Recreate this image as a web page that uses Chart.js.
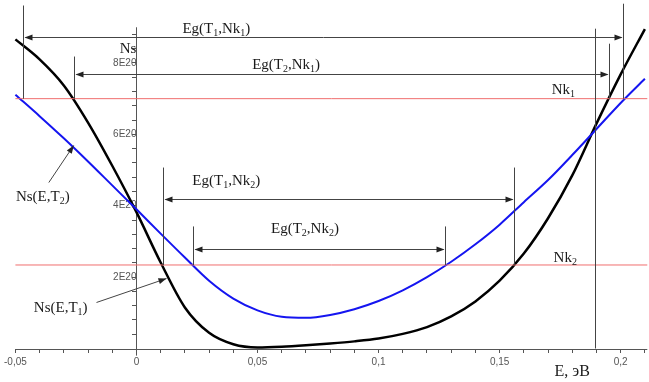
<!DOCTYPE html>
<html>
<head>
<meta charset="utf-8">
<script src="https://cdn.jsdelivr.net/npm/chart.js@4"></script>
<style>
html, body { margin: 0; padding: 0; background: #fff; }
</style>
</head>
<body>
<canvas id="myChart" width="649" height="382"></canvas>
<script>

// energy E, eV
let energies = [-0.05, -0.04, -0.03, -0.02, -0.01, 0, 0.01, 0.02, 0.03, 0.04, 0.05, 0.06, 0.07, 0.08,
                0.09, 0.1, 0.11, 0.12, 0.13, 0.14, 0.15, 0.16, 0.17, 0.18, 0.19, 0.2, 0.21];

// Ns in units of 1E20
let nsT1 = [8.66, 8.10, 7.37, 6.33, 5.12, 3.82, 2.41, 1.15, 0.44, 0.12, 0.03, 0.05, 0.09, 0.14,
            0.20, 0.28, 0.41, 0.60, 0.90, 1.32, 1.90, 2.66, 3.65, 4.85, 6.30, 7.68, 8.95];
let nsT2 = [7.11, 6.51, 5.89, 5.24, 4.57, 3.90, 3.22, 2.55, 1.90, 1.40, 1.07, 0.89, 0.86, 0.94,
            1.10, 1.33, 1.63, 2.00, 2.43, 2.92, 3.47, 4.10, 4.72, 5.42, 6.15, 6.88, 7.56];

let nk1 = 7.0;
let nk2 = 2.34;

let xMajor = [-0.05, 0, 0.05, 0.1, 0.15, 0.2];
let xLabels = ['-0,05', '0', '0,05', '0,1', '0,15', '0,2'];
let yMajor = [2, 4, 6, 8];
let yLabels = ['2E20', '4E20', '6E20', '8E20'];
let nsTick = 8.4;

// Eg brackets
let gapNames  = ['Eg(T_1,Nk_1)', 'Eg(T_2,Nk_1)', 'Eg(T_1,Nk_2)', 'Eg(T_2,Nk_2)'];
let gapLeft   = [-0.047, -0.026, 0.0111, 0.0235];
let gapRight  = [0.201, 0.195, 0.1561, 0.1273];
let gapArrow  = [8.74, 7.70, 4.20, 2.80];
let gapTopL   = [9.61, 8.18, 5.07, 3.42];
let gapTopR   = [9.66, 8.54, 5.07, 3.42];
let gapBottom = [nk1, nk1, nk2, nk2];
let gapTextE  = [0.033, 0.0618, 0.0371, 0.0696];
let gapTextN  = [8.85, 7.82, 4.57, 3.25];

// vertical marker line
let markE = 0.1895;
let markTop = 8.96;

// curve names with pointer arrows
let curveNames = ['Ns(E,T_2)', 'Ns(E,T_1)'];
let curveTextE = [-0.0387, -0.0313];
let curveTextN = [4.12, 1.01];
let pointerFrom = [[-0.0362, 4.65], [-0.0165, 1.29]];
let pointerTo   = [[-0.0259, 5.69], [0.0124, 1.96]];

let levelNames = ['Nk_1', 'Nk_2'];
let levelTextE = [0.1763, 0.1771];
let levelTextN = [7.14, 2.41];

let xTitle = 'E, эВ';

const MAIN_FONT = '15px "Liberation Serif"';
const SUB_FONT = '10px "Liberation Serif"';


function makePoints(ys)
{
    return energies.map((e, i) => ({ x: e, y: ys[i] }));
}

function near(a, b)
{
    return Math.abs(a - b) < 1e-6;
}

let xTicks = [];
for(let i = -5; i <= 21; i++) xTicks.push(i / 100);
let yTicks = [];
for(let i = 1; i <= 22; i++) yTicks.push(i * 4 / 10);


function crisp(v)
{
    return Math.round(v) + 0.5;
}

function line(ctx, x1, y1, x2, y2)
{
    ctx.beginPath();
    ctx.moveTo(x1, y1);
    ctx.lineTo(x2, y2);
    ctx.stroke();
}

function arrowHead(ctx, x, y, angle)
{
    const len = 8, half = 3;
    ctx.save();
    ctx.translate(x, y);
    ctx.rotate(angle);
    ctx.beginPath();
    ctx.moveTo(0, 0);
    ctx.lineTo(-len, -half);
    ctx.lineTo(-len, half);
    ctx.closePath();
    ctx.fill();
    ctx.restore();
}

function richText(ctx, str, x, y)
{
    // "_" puts the next character in subscript
    let parts = [];
    for(let i = 0; i < str.length; i++)
    {
        if(str[i] === '_') { parts.push({ t: str[i + 1], sub: true }); i++; }
        else parts.push({ t: str[i], sub: false });
    }
    let w = 0;
    parts.forEach(p =>
    {
        ctx.font = p.sub ? SUB_FONT : MAIN_FONT;
        p.w = ctx.measureText(p.t).width;
        w += p.w;
    });
    let cx = x - w / 2;
    parts.forEach(p =>
    {
        ctx.font = p.sub ? SUB_FONT : MAIN_FONT;
        ctx.fillText(p.t, cx, p.sub ? y + 3 : y);
        cx += p.w;
    });
}


const axisLines =
{
    id: 'axisLines',
    beforeDatasetsDraw(chart)
    {
        const ctx = chart.ctx;
        const px = v => chart.scales.x.getPixelForValue(v);
        const py = v => chart.scales.y.getPixelForValue(v);
        ctx.save();
        ctx.strokeStyle = '#555';
        ctx.lineWidth = 1;
        line(ctx, px(-0.05), crisp(py(0)), px(0.211), crisp(py(0)));
        line(ctx, crisp(px(0)), py(-0.2), crisp(px(0)), py(9.0));
        ctx.restore();
    }
};

const notes =
{
    id: 'notes',
    afterDatasetsDraw(chart)
    {
        const ctx = chart.ctx;
        const px = v => chart.scales.x.getPixelForValue(v);
        const py = v => chart.scales.y.getPixelForValue(v);
        ctx.save();
        ctx.lineWidth = 1;
        ctx.strokeStyle = '#444';
        ctx.fillStyle = '#222';

        for(let i = 0; i < gapNames.length; i++)
        {
            const xl = crisp(px(gapLeft[i])), xr = crisp(px(gapRight[i]));
            const ya = crisp(py(gapArrow[i]));
            line(ctx, xl, py(gapTopL[i]), xl, py(gapBottom[i]));
            line(ctx, xr, py(gapTopR[i]), xr, py(gapBottom[i]));
            line(ctx, xl + 2, ya, xr - 2, ya);
            arrowHead(ctx, xl + 1, ya, Math.PI);
            arrowHead(ctx, xr - 1, ya, 0);
        }

        line(ctx, crisp(px(markE)), py(markTop), crisp(px(markE)), py(0));

        for(let i = 0; i < curveNames.length; i++)
        {
            const x1 = px(pointerFrom[i][0]), y1 = py(pointerFrom[i][1]);
            const x2 = px(pointerTo[i][0]), y2 = py(pointerTo[i][1]);
            line(ctx, x1, y1, x2, y2);
            arrowHead(ctx, x2, y2, Math.atan2(y2 - y1, x2 - x1));
        }

        ctx.textBaseline = 'alphabetic';
        ctx.fillStyle = '#1a1a1a';
        for(let i = 0; i < gapNames.length; i++)
            richText(ctx, gapNames[i], px(gapTextE[i]), py(gapTextN[i]));
        for(let i = 0; i < curveNames.length; i++)
            richText(ctx, curveNames[i], px(curveTextE[i]), py(curveTextN[i]));
        for(let i = 0; i < levelNames.length; i++)
            richText(ctx, levelNames[i], px(levelTextE[i]), py(levelTextN[i]));

        ctx.font = '16px "Liberation Serif"';
        ctx.textAlign = 'center';
        ctx.fillText(xTitle, px(0.18), py(-0.76));
        ctx.restore();
    }
};


const config =
{
    type: 'line',
    data:
    {
        datasets:
        [
            {
                label: 'Nk1',
                data: [{ x: -0.05, y: nk1 }, { x: 0.211, y: nk1 }],
                borderColor: 'rgb(240, 110, 110)',
                borderWidth: 1,
                pointRadius: 0
            },
            {
                label: 'Nk2',
                data: [{ x: -0.05, y: nk2 }, { x: 0.211, y: nk2 }],
                borderColor: 'rgb(240, 110, 110)',
                borderWidth: 1,
                pointRadius: 0
            },
            {
                label: 'Ns(E,T2)',
                data: makePoints(nsT2),
                borderColor: '#1515f0',
                borderWidth: 2,
                pointRadius: 0,
                cubicInterpolationMode: 'monotone'
            },
            {
                label: 'Ns(E,T1)',
                data: makePoints(nsT1),
                borderColor: '#000',
                borderWidth: 2.5,
                pointRadius: 0,
                cubicInterpolationMode: 'monotone'
            }
        ]
    },
    options:
    {
        responsive: false,
        animation: false,
        layout: { padding: 0 },
        plugins:
        {
            legend: { display: false },
            tooltip: { enabled: false }
        },
        scales:
        {
            x:
            {
                type: 'linear',
                min: -0.0556,
                max: 0.2117,
                position: { y: 0 },
                border: { display: false },
                grid: { drawOnChartArea: false, drawTicks: true, tickLength: 4, color: '#555' },
                afterBuildTicks: s => { s.ticks = xTicks.map(v => ({ value: v })); },
                ticks:
                {
                    autoSkip: false,
                    maxRotation: 0,
                    padding: 4,
                    color: '#555',
                    font: { family: '"Liberation Sans Narrow", "Liberation Sans"', size: 10 },
                    callback: function(v)
                    {
                        const i = xMajor.findIndex(m => near(m, v));
                        return i >= 0 ? xLabels[i] : '';
                    }
                }
            },
            y:
            {
                type: 'linear',
                min: -0.714,
                max: 9.54,
                position: { x: 0 },
                border: { display: false },
                grid: { drawOnChartArea: false, drawTicks: true, tickLength: 4, color: '#555' },
                afterBuildTicks: s => { s.ticks = yTicks.map(v => ({ value: v })); },
                ticks:
                {
                    autoSkip: false,
                    padding: 2,
                    color: c => (c.tick && near(c.tick.value, nsTick)) ? '#1a1a1a' : '#555',
                    font: c => (c.tick && near(c.tick.value, nsTick))
                        ? { family: '"Liberation Serif"', size: 15 }
                        : { family: '"Liberation Sans Narrow", "Liberation Sans"', size: 10 },
                    callback: function(v)
                    {
                        if(near(v, nsTick)) return 'Ns';
                        const i = yMajor.findIndex(m => near(m, v));
                        return i >= 0 ? yLabels[i] : '';
                    }
                }
            }
        }
    },
    plugins: [axisLines, notes]
};

new Chart(document.getElementById('myChart'), config);

</script>
</body>
</html>
